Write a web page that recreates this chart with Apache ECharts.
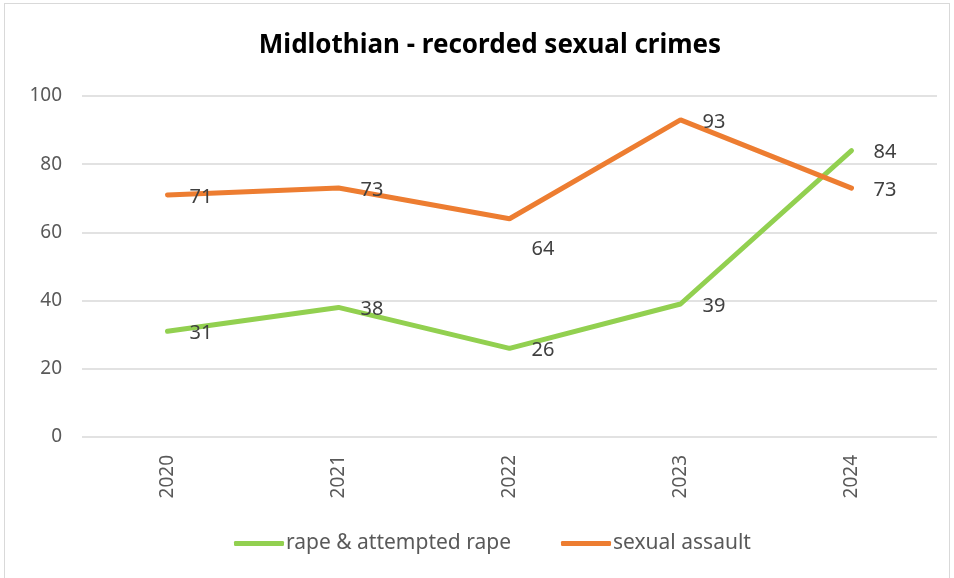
<!DOCTYPE html>
<html>
<head>
<meta charset="utf-8">
<script src="https://cdn.jsdelivr.net/npm/echarts@6/dist/echarts.min.js"></script>
<style>
  html, body { margin: 0; padding: 0; background: #fff; }
  #frame { position: absolute; left: 4px; top: 3px; width: 946px; height: 590px; border: 1px solid #d9d9d9; box-sizing: border-box; }
  #chart { position: absolute; left: 0; top: 0; width: 954px; height: 578px; }
</style>
</head>
<body>
<div id="frame"></div>
<div id="chart"></div>
<script>
var years = ['2020', '2021', '2022', '2023', '2024']
var rape = [31, 38, 26, 39, 84]
var assault = [71, 73, 64, 93, 73]
var yTicks = [0, 20, 40, 60, 80, 100]

var font = 'Noto Sans'
var chart = echarts.init(document.getElementById('chart'), null, {renderer: 'canvas'})

// label for 2022 sexual assault sits below the line in the original
var assaultData = assault.map(function (v, i) {
    if (i === 2) return {value: v, label: {offset: [0, 31]}}
    return v
})

var lbl = {show: true, position: 'right', distance: 22, offset: [0, 2], fontFamily: font, fontSize: 20, color: '#404040'}

chart.setOption({
    animation: false,
    title: {
        text: 'Midlothian - recorded sexual crimes',
        left: 485, top: 28, textAlign: 'center',
        textStyle: {fontFamily: font, fontWeight: 'bold', fontSize: 26, color: '#000'}
    },
    legend: {
        bottom: 19, left: 229,
        itemWidth: 50, itemHeight: 5, itemGap: 50,
        icon: 'roundRect',
        textStyle: {fontFamily: font, fontSize: 21, color: '#595959', padding: [0, 0, 0, -3]},
        data: ['rape & attempted rape', 'sexual assault']
    },
    grid: {left: 82, right: 17, top: 96, bottom: 141, containLabel: false},
    xAxis: {
        type: 'category', data: years, boundaryGap: true,
        axisLine: {show: false}, axisTick: {show: false},
        axisLabel: {rotate: 90, margin: 18, fontFamily: font, fontSize: 19, color: '#595959'}
    },
    yAxis: {
        type: 'value', min: yTicks[0], max: yTicks[yTicks.length - 1], interval: 20,
        axisLine: {show: false}, axisTick: {show: false},
        splitLine: {lineStyle: {color: '#d9d9d9', width: 1.5}},
        axisLabel: {margin: 20, fontFamily: font, fontSize: 19, color: '#595959'}
    },
    series: [
        {
            name: 'rape & attempted rape', type: 'line', data: rape,
            symbol: 'circle', symbolSize: 0.1, showSymbol: true,
            lineStyle: {color: '#92d050', width: 5, cap: 'round'},
            itemStyle: {color: '#92d050'},
            label: lbl
        },
        {
            name: 'sexual assault', type: 'line', data: assaultData,
            symbol: 'circle', symbolSize: 0.1, showSymbol: true,
            lineStyle: {color: '#ed7d31', width: 5, cap: 'round'},
            itemStyle: {color: '#ed7d31'},
            label: lbl
        }
    ]
})
</script>
</body>
</html>
